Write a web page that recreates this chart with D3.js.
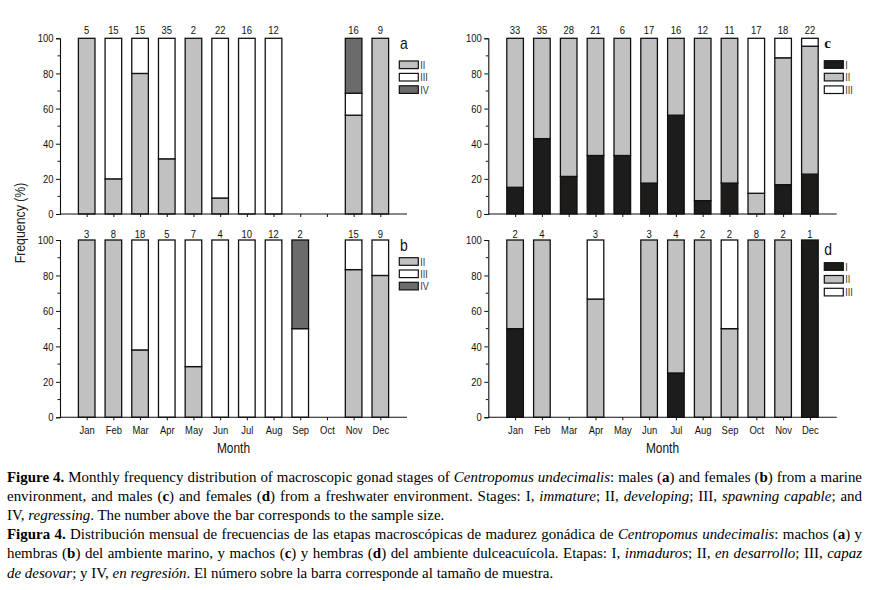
<!DOCTYPE html>
<html><head><meta charset="utf-8">
<script src="https://cdn.jsdelivr.net/npm/d3@7"></script>
<style>
body{margin:0;background:#fff;}
svg{display:block;}
.sans{font-family:"Liberation Sans",Arial,sans-serif;}
.serif{font-family:"Liberation Serif","Times New Roman",serif;}
</style>
</head><body>
<svg id="chart" width="869" height="590"></svg>
<script>
// ---------- DATA ----------
const months = ["Jan","Feb","Mar","Apr","May","Jun","Jul","Aug","Sep","Oct","Nov","Dec"];
const yTicks = [0,20,40,60,80,100];

// (a) males, marine
const countsA = [5,15,15,35,2,22,16,12,null,null,16,9];
const aII  = [100,20,80,31.4,100,9.1,0,0,null,null,56.25,100];
const aIII = [0,80,20,68.6,0,90.9,100,100,null,null,12.5,0];
const aIV  = [0,0,0,0,0,0,0,0,null,null,31.25,0];

// (b) females, marine
const countsB = [3,8,18,5,7,4,10,12,2,null,15,9];
const bII  = [100,100,38,0,28.6,0,0,0,0,null,83.3,80];
const bIII = [0,0,62,100,71.4,100,100,100,50,null,16.7,20];
const bIV  = [0,0,0,0,0,0,0,0,50,null,0,0];

// (c) males, freshwater
const countsC = [33,35,28,21,6,17,16,12,11,17,18,22];
const cI   = [15.2,42.9,21.4,33.3,33.3,17.6,56.25,7.6,17.6,0,16.7,22.7];
const cII  = [84.8,57.1,78.6,66.7,66.7,82.4,43.75,92.4,82.4,11.8,72.2,72.8];
const cIII = [0,0,0,0,0,0,0,0,0,88.2,11.1,4.5];

// (d) females, freshwater
const countsD = [2,4,null,3,null,3,4,2,2,8,2,1];
const dI   = [50,0,null,0,null,0,25,0,0,0,0,100];
const dII  = [50,100,null,66.7,null,100,75,100,50,100,100,0];
const dIII = [0,0,null,33.3,null,0,0,0,50,0,0,0];

const stageColor = {I:"#1e1b1b", II:"#c1c1c1", III:"#ffffff", IV:"#6b6b6b"};

// ---------- LAYOUT ----------
const panels = [
  {id:"a", x0:60, x1:407, yb:214, yt:38.3, counts:countsA, keys:["II","III","IV"], vals:{II:aII,III:aIII,IV:aIV},
   months:false, countY:34, letterX:400, letterY:49, letterSerif:false, legX:399.3, legY:61, legStep:12.4},
  {id:"b", x0:60, x1:407, yb:417.3, yt:240, counts:countsB, keys:["II","III","IV"], vals:{II:bII,III:bIII,IV:bIV},
   months:true, countY:238, letterX:400, letterY:250.5, letterSerif:false, legX:399.3, legY:257.7, legStep:12.3},
  {id:"c", x0:488.3, x1:836.7, yb:214, yt:38.3, counts:countsC, keys:["I","II","III"], vals:{I:cI,II:cII,III:cIII},
   months:false, countY:34, letterX:824.3, letterY:48.3, letterSerif:true, legX:824.3, legY:60.7, legStep:12.6},
  {id:"d", x0:488.3, x1:836.7, yb:417.3, yt:240, counts:countsD, keys:["I","II","III"], vals:{I:dI,II:dII,III:dIII},
   months:true, countY:238, letterX:824.3, letterY:255, letterSerif:false, legX:824.3, legY:262.7, legStep:12.8}
];

const svg = d3.select("#chart");

panels.forEach(p => {
  const g = svg.append("g");
  const x = d3.scaleLinear().domain([0,13]).range([p.x0,p.x1]);
  const y = d3.scaleLinear().domain([0,100]).range([p.yb,p.yt]);
  const bw = 16.6;

  const rows = months.map((m,i) => {
    const r = {m, i, n:p.counts[i]};
    p.keys.forEach(k => r[k] = p.vals[k][i] == null ? 0 : p.vals[k][i]);
    return r;
  });
  const stack = d3.stack().keys(p.keys)(rows);

  stack.forEach(layer => {
    g.selectAll(null).data(layer.filter(d => d.data.n != null && d[1]-d[0] > 0))
      .enter().append("rect")
      .attr("x", d => x(d.data.i+1) - bw/2)
      .attr("y", d => y(Math.min(d[1],100)))
      .attr("width", bw)
      .attr("height", d => y(d[0]) - y(Math.min(d[1],100)))
      .attr("fill", stageColor[layer.key])
      .attr("stroke", "#111")
      .attr("stroke-width", 1.3);
  });

  g.selectAll(null).data(rows.filter(r => r.n != null)).enter().append("text")
    .attr("class","sans narrow")
    .attr("x", d => x(d.i+1)).attr("y", p.countY)
    .attr("text-anchor","middle").attr("font-size",11.5).attr("fill","#111")
    .text(d => d.n);

  const yAxis = d3.axisLeft(y).tickValues(yTicks).tickSize(4).tickPadding(2.5);
  const ya = g.append("g").attr("transform",`translate(${p.x0},0)`).call(yAxis);
  ya.attr("font-family",null).attr("font-size",null);
  ya.select(".domain").attr("stroke","#111").attr("stroke-width",1.1);
  ya.selectAll(".tick line").attr("stroke","#111");
  ya.selectAll("text").attr("class","sans narrow").attr("font-size",11.5).attr("fill","#111");
  g.selectAll(null).data([10,30,50,70,90]).enter().append("line")
    .attr("x1",p.x0-2.5).attr("x2",p.x0).attr("y1",d=>y(d)).attr("y2",d=>y(d))
    .attr("stroke","#111");

  const xAxis = d3.axisBottom(x).tickValues(d3.range(1,13)).tickSize(3).tickPadding(6)
    .tickFormat(d => p.months ? months[d-1] : "");
  const xa = g.append("g").attr("transform",`translate(0,${p.yb})`).call(xAxis);
  xa.attr("font-family",null).attr("font-size",null);
  xa.select(".domain").attr("d", `M${p.x0},0H${p.x1}`).attr("stroke","#111").attr("stroke-width",1.1);
  xa.selectAll(".tick line").attr("stroke","#111");
  xa.selectAll("text").attr("class","sans narrow").attr("font-size",11.5).attr("fill","#111");

  if (p.months) {
    g.append("text").attr("class","sans narrow")
      .attr("x",(p.x0+p.x1)/2).attr("y",453).attr("text-anchor","middle")
      .attr("font-size",14.5).attr("fill","#111").text("Month");
  }

  g.append("text").attr("class", p.letterSerif ? "serif" : "sans narrow")
    .attr("x",p.letterX).attr("y",p.letterY)
    .attr("font-size", p.letterSerif ? 15 : 17)
    .attr("font-weight", p.letterSerif ? "bold" : "normal")
    .attr("fill","#111").text(p.id);

  const lg = g.append("g");
  p.keys.forEach((k,j) => {
    const yy = p.legY + j*p.legStep;
    lg.append("rect").attr("x",p.legX).attr("y",yy).attr("width",19).attr("height",7.6)
      .attr("fill",stageColor[k]).attr("stroke","#111").attr("stroke-width",1.2);
    lg.append("text").attr("class","sans narrow").attr("x",p.legX+21).attr("y",yy+7.8)
      .attr("font-size",11).attr("fill","#333").text(k);
  });
});

svg.append("text").attr("class","sans narrow")
  .attr("transform","translate(25,223) rotate(-90)")
  .attr("text-anchor","middle").attr("font-size",15).attr("fill","#222")
  .text("Frequency (%)");

// condense chart text horizontally (the original uses a narrow sans face)
svg.selectAll("text.narrow").each(function(){
  const L = this.getComputedTextLength();
  if (L > 0) d3.select(this).attr("textLength", L*0.82).attr("lengthAdjust","spacingAndGlyphs");
});

// ---------- CAPTION ----------
const captionLines = [
  {j:true, segs:[["Figure 4.","b"],[" Monthly frequency distribution of macroscopic gonad stages of ","n"],["Centropomus undecimalis","i"],[": males (","n"],["a","b"],[") and females (","n"],["b","b"],[") from a marine","n"]]},
  {j:true, segs:[["environment, and males (","n"],["c","b"],[") and females (","n"],["d","b"],[") from a freshwater environment. Stages: I, ","n"],["immature","i"],["; II, ","n"],["developing","i"],["; III, ","n"],["spawning capable","i"],["; and","n"]]},
  {j:false, w:470, segs:[["IV, ","n"],["regressing","i"],[". The number above the bar corresponds to the sample size.","n"]]},
  {j:true, segs:[["Figura 4.","b"],[" Distribución mensual de frecuencias de las etapas macroscópicas de madurez gonádica de ","n"],["Centropomus undecimalis","i"],[": machos (","n"],["a","b"],[") y","n"]]},
  {j:true, segs:[["hembras (","n"],["b","b"],[") del ambiente marino, y machos (","n"],["c","b"],[") y hembras (","n"],["d","b"],[") del ambiente dulceacuícola. Etapas: I, ","n"],["inmaduros","i"],["; II, ","n"],["en desarrollo","i"],["; III, ","n"],["capaz","i"]]},
  {j:false, w:564, segs:[["de desovar","i"],["; y IV, ","n"],["en regresión","i"],[". El número sobre la barra corresponde al tamaño de muestra.","n"]]}
];
const capX = 7, capRight = 862, capY0 = 482, capStep = 19.1;
const target = capRight - capX;
const capNodes = captionLines.map((ln, li) => {
  const t = svg.append("text").attr("class","serif")
    .attr("x",capX).attr("y",capY0 + li*capStep)
    .attr("font-size",14).attr("fill","#000")
    .attr("xml:space","preserve").style("white-space","pre");
  ln.segs.forEach(s => {
    t.append("tspan")
      .attr("font-weight", s[1]==="b" ? "bold" : "normal")
      .attr("font-style", s[1]==="i" ? "italic" : "normal")
      .text(s[0]);
  });
  return t;
});
// calibrate font size: match the short lines, but never exceed the width of justified lines
const lens14 = capNodes.map(t => t.node().getComputedTextLength());
const ratioShort = d3.mean(captionLines.map((ln,i)=> ln.j ? null : ln.w / lens14[i]).filter(v=>v!=null));
const ratioFit = d3.min(captionLines.map((ln,i)=> ln.j ? target / lens14[i] : null).filter(v=>v!=null));
const capFs = 14 * Math.min(ratioShort, ratioFit * 0.995);
capNodes.forEach((t,i) => {
  t.attr("font-size", capFs);
  const ln = captionLines[i];
  if (ln.j) {
    const L = t.node().getComputedTextLength();
    const full = ln.segs.map(s=>s[0]).join("");
    const nSp = (full.match(/ /g) || []).length;
    if (L < target) t.attr("word-spacing", (target - L)/nSp);
  }
});
</script>
</body></html>
